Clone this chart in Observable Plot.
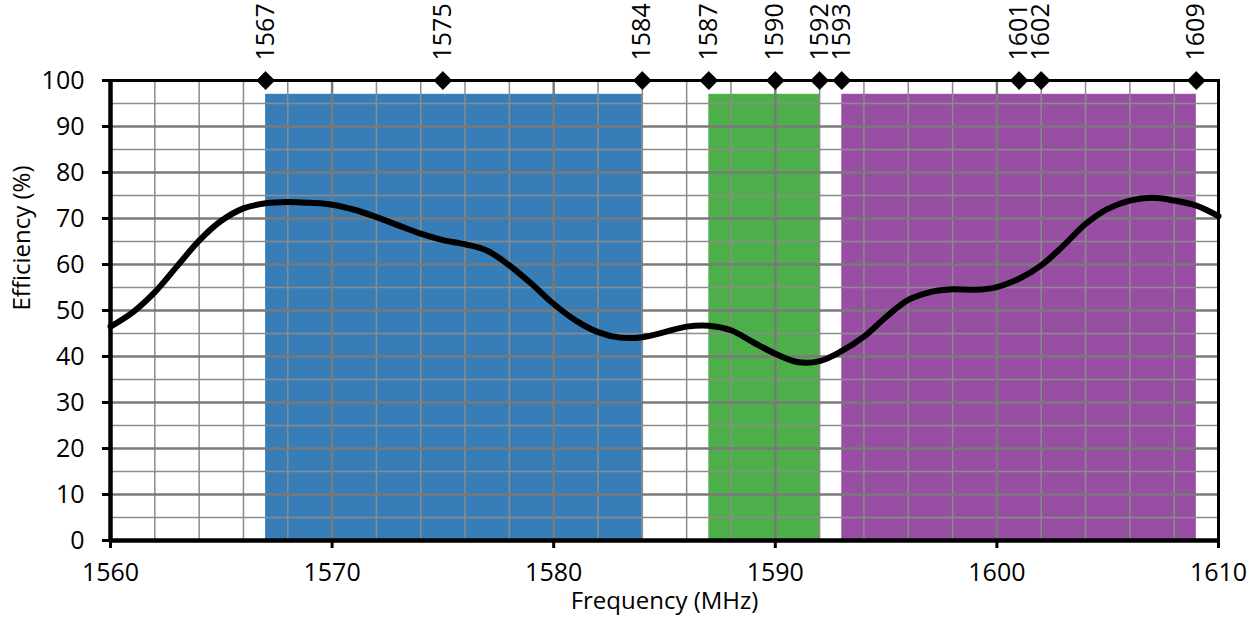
<!DOCTYPE html>
<html>
<head>
<meta charset="utf-8">
<script src="https://cdn.jsdelivr.net/npm/d3@7"></script>
<script src="https://cdn.jsdelivr.net/npm/@observablehq/plot@0.6"></script>
<style>
  html, body { margin: 0; padding: 0; background: #fff; overflow: hidden; }
  #chart svg { display: block; }
</style>
</head>
<body>
<div id="chart"></div>
<script>
// Frequencies (MHz) and efficiency (%) of the curve
const freq = [1560,1561,1562,1563,1564,1565,1566,1567,1568,1569,1570,1571,1572,1573,1574,1575,1576,1577,1578,1579,1580,1581,1582,1583,1584,1585,1586,1587,1588,1589,1590,1591,1592,1593,1594,1595,1596,1597,1598,1599,1600,1601,1602,1603,1604,1605,1606,1607,1608,1609,1610];
const efficiency = [46.5,49.6,54.0,59.6,65.2,69.5,72.2,73.3,73.6,73.4,73.0,71.9,70.3,68.5,66.7,65.3,64.4,63.0,59.8,55.8,51.4,47.8,45.3,44.1,44.2,45.3,46.5,46.7,45.7,43.1,40.6,38.8,39.0,41.2,44.3,48.6,52.3,54.0,54.6,54.5,55.1,56.9,59.8,64.1,68.8,72.1,73.9,74.5,73.9,72.8,70.5];

// Frequency bands
const bandStart = [1567, 1587, 1593];
const bandEnd   = [1584, 1592, 1609];
const bandTop   = [97, 97, 97];
const bandColor = ["#377eb8", "#4daf4a", "#984ea3"];

// Marked frequencies along the top
const markers = [1567, 1575, 1584, 1587, 1590, 1592, 1593, 1601, 1602, 1609];

// Axis ticks
const xTicks = [1560, 1570, 1580, 1590, 1600, 1610];
const yTicks = [0, 10, 20, 30, 40, 50, 60, 70, 80, 90, 100];
const xMinor = d3.range(1562, 1610, 2).filter(d => d % 10 !== 0);
const yMinor = [5, 15, 25, 35, 45, 55, 65, 75, 85, 95];

const curve = freq.map((f, i) => ({f, e: efficiency[i]}));
const bands = bandStart.map((s, i) => ({s, e: bandEnd[i], top: bandTop[i], c: bandColor[i]}));

const font = "'Open Sans', 'Noto Sans', sans-serif";

const chart = Plot.plot({
  width: 1257,
  height: 619,
  marginTop: 80,
  marginBottom: 79,
  marginLeft: 110,
  marginRight: 39,
  style: {fontFamily: font, background: "#fff", color: "#000", fontSize: "25px"},
  x: {domain: [1560, 1610], axis: null},
  y: {domain: [0, 100], axis: null},
  marks: [
    Plot.rect(bands, {x1: "s", x2: "e", y1: 0, y2: "top", fill: "c"}),
    Plot.ruleX(xMinor, {stroke: "#8c8c8c", strokeWidth: 1.5}),
    Plot.ruleY(yMinor, {stroke: "#8c8c8c", strokeWidth: 1.5}),
    Plot.ruleX(xTicks, {stroke: "#7a7a7a", strokeWidth: 2.5}),
    Plot.ruleY(yTicks, {stroke: "#7a7a7a", strokeWidth: 2.5}),
    Plot.frame({stroke: "#000", strokeWidth: 3}),
    Plot.ruleX([1560], {stroke: "#000", strokeWidth: 4.5}),
    Plot.ruleY([0], {stroke: "#000", strokeWidth: 4.5}),
    Plot.axisY({ticks: yTicks, tickSize: 8, tickPadding: 18, fontSize: 25, strokeWidth: 3, label: null, tickFormat: d => String(d)}),
    Plot.axisX({ticks: xTicks, tickSize: 8, tickPadding: 15, fontSize: 25, strokeWidth: 3, label: null, tickFormat: d => String(d)}),
    Plot.line(curve, {x: "f", y: "e", curve: "catmull-rom", stroke: "#000", strokeWidth: 6}),
    Plot.dot(markers, {x: d => d, y: 100, symbol: "diamond2", fill: "#000", stroke: "#000", r: 7.5}),
    Plot.text(markers, {x: d => d, y: 100, text: d => String(d), rotate: -90, textAnchor: "start", lineAnchor: "middle", dy: -20, fontSize: 25, fill: "#000"}),
    Plot.text(["Efficiency (%)"], {frameAnchor: "left", dx: -88, rotate: -90, fontSize: 24, fill: "#000"}),
    Plot.text(["Frequency (MHz)"], {frameAnchor: "bottom", dy: 68, fontSize: 24, fill: "#000"})
  ]
});
document.getElementById("chart").appendChild(chart);
</script>
</body>
</html>
